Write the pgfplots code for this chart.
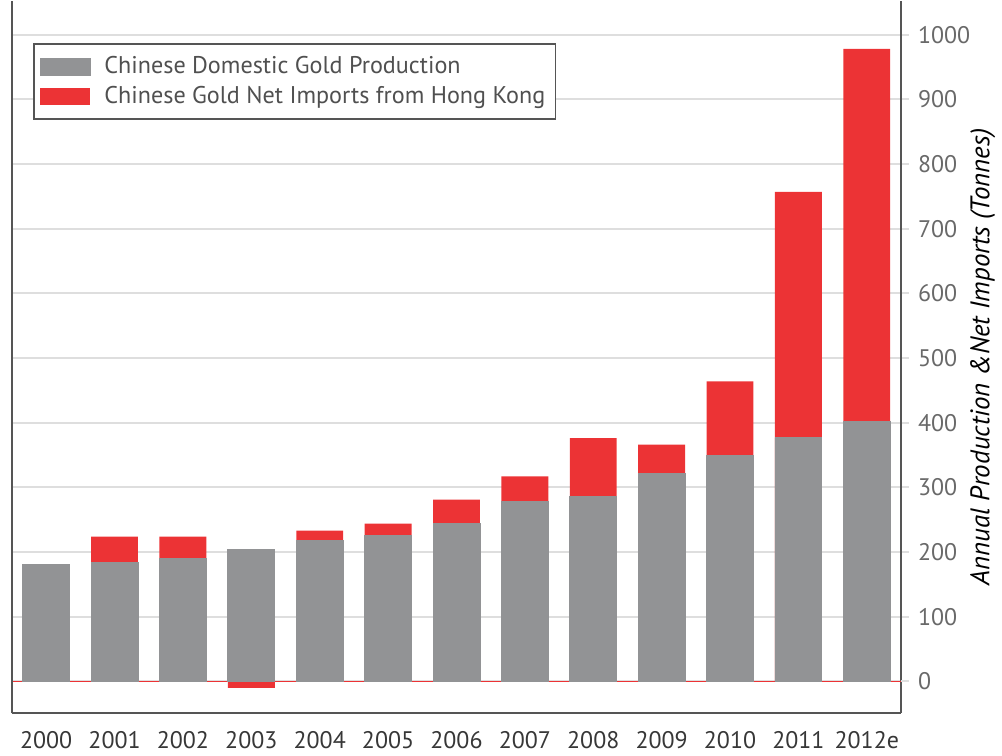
\documentclass[border=0pt]{standalone}
\usepackage{pgfplots}
\usepackage{pgfplotstable}
\pgfplotsset{compat=1.18}
\usepackage{fontspec}
\setmainfont{PT Sans}
\definecolor{bargray}{RGB}{146,147,149}
\definecolor{barred}{RGB}{236,51,53}
\definecolor{gridgray}{RGB}{222,222,222}
\definecolor{axisgray}{RGB}{85,85,85}
\definecolor{ticktext}{RGB}{105,105,105}
\definecolor{xtext}{RGB}{55,55,55}
\definecolor{legtext}{RGB}{80,80,80}
\pgfplotstableread{
x prod imp
0 181 0
1 184 40
2 190 34
3 204 -10
4 218 15
5 226 18
6 244 37
7 278 39
8 286 90
9 321 45
10 349 115
11 377 380
12 402 576
}\data
\begin{document}
\begin{tikzpicture}
\begin{axis}[
  name=ax,
  scale only axis, width=445.5pt, height=357pt,
  xmin=-0.5, xmax=12.5, ymin=-49.5, ymax=1052,
  ybar, bar width=23.5pt, bar shift=0pt,
  axis x line*=bottom, axis y line*=right,
  axis line style={draw=axisgray, line width=1pt},
  xtick={0,...,12},
  xticklabels={2000,2001,2002,2003,2004,2005,2006,2007,2008,2009,2010,2011,2012e},
  x tick label style={font=\fontsize{12}{14}\selectfont, text=xtext, yshift=-1.5pt},
  major x tick style={draw=none},
  ytick={0,100,...,1000},
  /pgf/number format/1000 sep={},
  tick align=outside, major tick length=4pt,
  major y tick style={draw=gridgray, line width=1pt},
  y tick label style={font=\fontsize{12}{14}\selectfont, text=ticktext, xshift=1pt},
  /pgf/number format/assume math mode=true,
  ymajorgrids, grid style={gridgray, line width=1pt},
  extra y ticks={0}, extra y tick labels={},
  extra y tick style={grid style={barred, line width=0.8pt}, major tick style={draw=barred}},
  every axis y label/.style={at={(rel axis cs:1,0.5)}, anchor=center, rotate=90, yshift=-41pt,
    font=\fontsize{13.5}{15}\selectfont\itshape, text=black},
  ylabel={Annual Production \&Net Imports (Tonnes)},
  legend style={at={(rel axis cs:0.0236,0.941)}, anchor=north west, draw=axisgray, line width=0.8pt,
    font=\fontsize{12.1}{14}\selectfont, text=legtext, inner xsep=3pt, inner ysep=4.5pt,
    row sep=0.5pt, /tikz/every odd column/.append style={column sep=5pt}},
  legend cell align=left,
  reverse legend,
  legend image code/.code={\fill[#1] (0pt,-4.25pt) rectangle (25pt,4.25pt);},
]
\addplot[fill=barred, draw=none] table[x=x, y expr={ifthenelse(\thisrow{imp}<0,\thisrow{imp},ifthenelse(\thisrow{imp}==0,0,\thisrow{prod}+\thisrow{imp}))}] {\data};
\addlegendentry{Chinese Gold Net Imports from Hong Kong}
\addplot[fill=bargray, draw=bargray, line width=0.4pt] table[x=x, y=prod] {\data};
\addlegendentry{Chinese Domestic Gold Production}
\end{axis}
\draw[axisgray, line width=1pt] (ax.south west) -- (ax.north west);
\path ([xshift=-6pt]ax.south west) ([xshift=49.5pt,yshift=-17pt]ax.south east);
\end{tikzpicture}
\end{document}
